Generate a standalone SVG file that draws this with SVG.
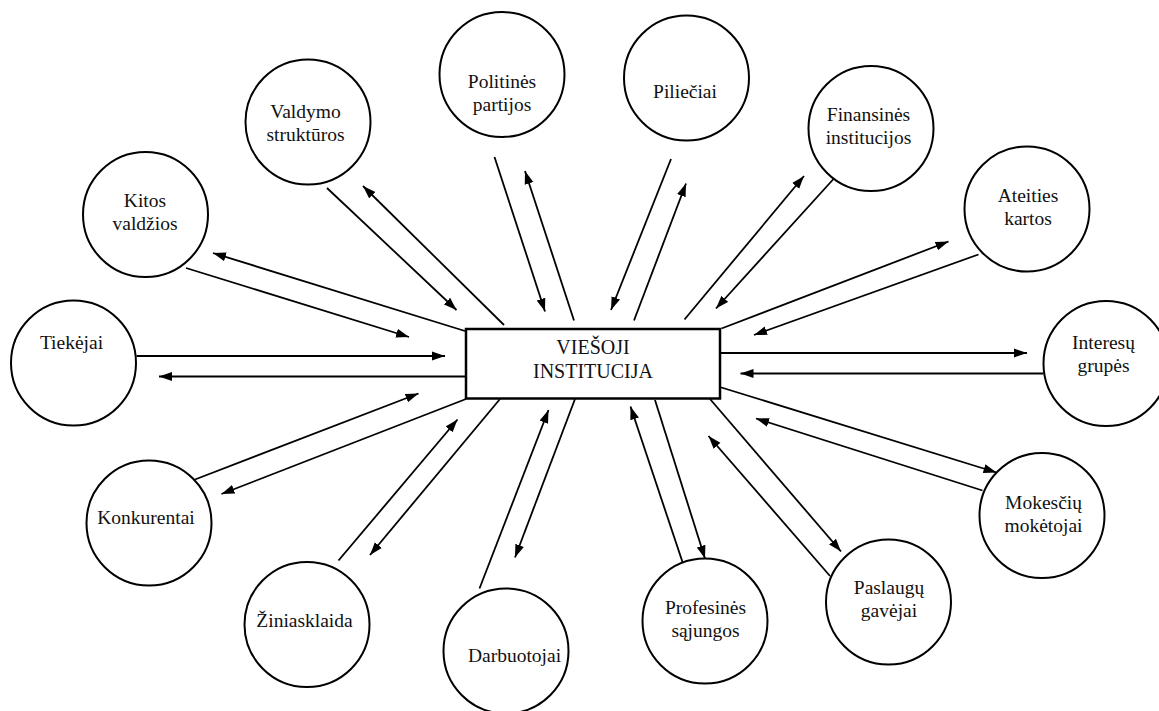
<svg xmlns="http://www.w3.org/2000/svg" width="1159" height="711" viewBox="0 0 1159 711">
  <style>
    .node circle { fill: #fff; stroke: #000; stroke-width: 2; }
    .hub rect { fill: #fff; stroke: #000; stroke-width: 2.5; }
    text { font-family: "Liberation Serif", "Times New Roman", serif; font-size: 19.5px; fill: #111; text-anchor: middle; }
    .hub text { font-size: 20px; }
    #connectors line { stroke: #000; stroke-width: 1.8; fill: none; }
    #connectors line.to { marker-end: url(#arrow); }
  </style>
  <defs>
    <marker id="arrow" markerUnits="userSpaceOnUse" markerWidth="14" markerHeight="10" refX="13" refY="5" orient="auto">
      <path d="M0,0.5 L13,5 L0,9.5 z" fill="#000"/>
    </marker>
  </defs>
  <rect width="1159" height="711" fill="#fff"/>

  <!-- links between the institution and its stakeholders -->
  <g id="connectors">
    <!-- Valdymo struktūros -->
    <line class="to" x1="327" y1="188" x2="456.5" y2="310"/>
    <line class="to" x1="504" y1="325" x2="363" y2="186"/>
    <!-- Kitos valdžios -->
    <line class="to" x1="465" y1="331" x2="213" y2="253"/>
    <line class="to" x1="186" y1="268" x2="409" y2="337"/>
    <!-- Politinės partijos -->
    <line class="to" x1="494.5" y1="157" x2="545" y2="311.5"/>
    <line class="to" x1="574" y1="320.5" x2="525" y2="171"/>
    <!-- Piliečiai -->
    <line class="to" x1="671" y1="159" x2="611" y2="310"/>
    <line class="to" x1="634" y1="320.5" x2="686" y2="183.5"/>
    <!-- Finansinės institucijos -->
    <line class="to" x1="684.5" y1="319.5" x2="804" y2="176"/>
    <line class="to" x1="833.5" y1="179" x2="716" y2="308.5"/>
    <!-- Ateities kartos -->
    <line class="to" x1="721.5" y1="328.5" x2="948.5" y2="241.5"/>
    <line class="to" x1="978.5" y1="254.5" x2="754" y2="335"/>
    <!-- Tiekėjai -->
    <line class="to" x1="136.5" y1="356" x2="445" y2="356"/>
    <line class="to" x1="466" y1="376.5" x2="159" y2="376.5"/>
    <!-- Interesų grupės -->
    <line class="to" x1="720" y1="353" x2="1027" y2="353"/>
    <line class="to" x1="1043.5" y1="373.5" x2="740.5" y2="373.5"/>
    <!-- Konkurentai -->
    <line class="to" x1="195" y1="479.5" x2="418.5" y2="393.5"/>
    <line class="to" x1="466" y1="399" x2="221.5" y2="494"/>
    <!-- Žiniasklaida -->
    <line class="to" x1="338.5" y1="560.5" x2="457.5" y2="419.5"/>
    <line class="to" x1="500" y1="399" x2="370" y2="555"/>
    <!-- Darbuotojai -->
    <line class="to" x1="479.5" y1="588.5" x2="548.5" y2="410"/>
    <line class="to" x1="575" y1="399" x2="515" y2="557.5"/>
    <!-- Profesinės sąjungos -->
    <line class="to" x1="688.5" y1="580" x2="630.5" y2="406.5"/>
    <line class="to" x1="655" y1="400" x2="705" y2="558.5"/>
    <!-- Paslaugų gavėjai -->
    <line class="to" x1="830" y1="576" x2="708.5" y2="436"/>
    <line class="to" x1="710" y1="399" x2="841" y2="551.5"/>
    <!-- Mokesčių mokėtojai -->
    <line class="to" x1="716.5" y1="386" x2="996.5" y2="472.5"/>
    <line class="to" x1="982.5" y1="490.5" x2="756" y2="418.5"/>
  </g>

  <!-- central institution -->
  <g id="viesoji-institucija" class="hub">
    <rect x="466" y="329" width="254" height="69.5"/>
    <text x="593" y="353.5">VIEŠOJI</text>
    <text x="593" y="377.5">INSTITUCIJA</text>
  </g>

  <!-- stakeholders -->
  <g id="valdymo-strukturos" class="node">
    <circle cx="308" cy="122" r="62.5"/>
    <text x="305.5" y="117.5">Valdymo</text>
    <text x="305.5" y="140.5">struktūros</text>
  </g>
  <g id="kitos-valdzios" class="node">
    <circle cx="145.5" cy="214.5" r="62.5"/>
    <text x="145" y="207">Kitos</text>
    <text x="145" y="230">valdžios</text>
  </g>
  <g id="politines-partijos" class="node">
    <circle cx="502" cy="74.5" r="62.5"/>
    <text x="502" y="87.5">Politinės</text>
    <text x="502" y="110.5">partijos</text>
  </g>
  <g id="pilieciai" class="node">
    <circle cx="686.5" cy="78" r="62.5"/>
    <text x="685" y="97.5">Piliečiai</text>
  </g>
  <g id="finansines-institucijos" class="node">
    <circle cx="871" cy="128.5" r="62.5"/>
    <text x="868.5" y="121">Finansinės</text>
    <text x="868.5" y="144">institucijos</text>
  </g>
  <g id="ateities-kartos" class="node">
    <circle cx="1027" cy="209" r="62.5"/>
    <text x="1028" y="201.5">Ateities</text>
    <text x="1028" y="225">kartos</text>
  </g>
  <g id="tiekejai" class="node">
    <circle cx="73.5" cy="363" r="62.5"/>
    <text x="71.5" y="348.5">Tiekėjai</text>
  </g>
  <g id="interesu-grupes" class="node">
    <circle cx="1106" cy="363.5" r="62.5"/>
    <text x="1103.5" y="349">Interesų</text>
    <text x="1103.5" y="372">grupės</text>
  </g>
  <g id="konkurentai" class="node">
    <circle cx="149" cy="523" r="62.5"/>
    <text x="146" y="523.5">Konkurentai</text>
  </g>
  <g id="ziniasklaida" class="node">
    <circle cx="307" cy="624.5" r="62.5"/>
    <text x="304.5" y="627">Žiniasklaida</text>
  </g>
  <g id="darbuotojai" class="node">
    <circle cx="506" cy="651" r="62.5"/>
    <text x="514.5" y="662">Darbuotojai</text>
  </g>
  <g id="profesines-sajungos" class="node">
    <circle cx="705" cy="621" r="62.5"/>
    <text x="705.5" y="613.5">Profesinės</text>
    <text x="705.5" y="637">sąjungos</text>
  </g>
  <g id="paslaugu-gavejai" class="node">
    <circle cx="888.5" cy="602" r="62.5"/>
    <text x="889" y="593.5">Paslaugų</text>
    <text x="889" y="617">gavėjai</text>
  </g>
  <g id="mokesciu-moketojai" class="node">
    <circle cx="1042" cy="515.5" r="62.5"/>
    <text x="1043.5" y="508.5">Mokesčių</text>
    <text x="1043.5" y="532">mokėtojai</text>
  </g>
</svg>
